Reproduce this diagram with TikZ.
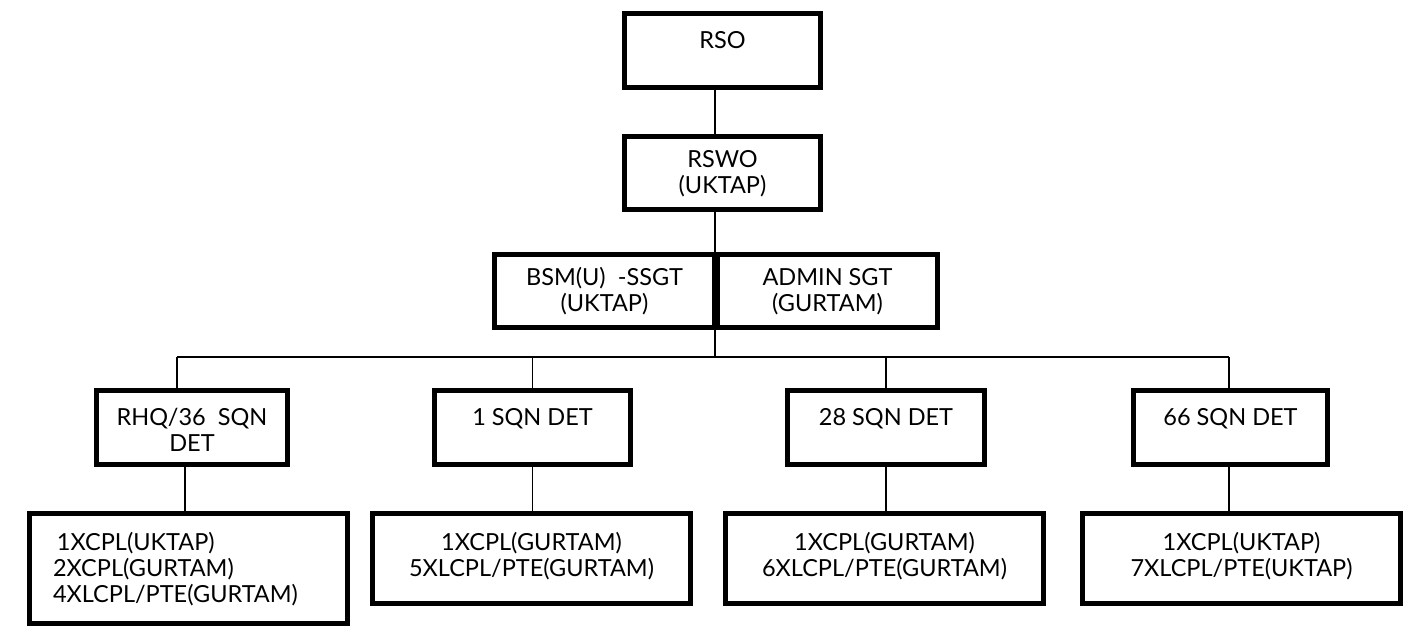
\documentclass[tikz,border=0pt]{standalone}
\usepackage{fontspec}
\setmainfont{Lato}
\newcommand{\unitlines}[4]{\parbox[c][#2][t]{#1}{\centering\rule{0pt}{#3}#4}}

\begin{document}
\begin{tikzpicture}[line join=miter,
  unit/.style={draw, line width=5bp, inner sep=0pt, font=\fontsize{23.5bp}{26bp}\selectfont},
  wire/.style={line width=1.6bp}]
\useasboundingbox (0bp,0bp) rectangle (1413bp,626bp);
%%
\node (node_rso) at (722.5bp,575.5bp) [unit] {\unitlines{196bp}{74bp}{35bp}{RSO}};
  \node (node_rswo) at (722.5bp,453bp) [unit] {\unitlines{196bp}{73bp}{31bp}{RSWO\\(UKTAP)}};
  \node (node_bsm) at (604.5bp,335bp) [unit] {\unitlines{220bp}{73bp}{31bp}{BSM(U)\ \ -SSGT\\(UKTAP)}};
  \node (node_admin) at (827.5bp,335bp) [unit] {\unitlines{220bp}{73bp}{31bp}{ADMIN SGT\\(GURTAM)}};
  \node (node_rhq) at (192bp,198.5bp) [unit] {\unitlines{191bp}{74bp}{35bp}{RHQ/36\ \ SQN\\DET}};
  \node (node_sqn1) at (532.5bp,198.5bp) [unit] {\unitlines{196bp}{74bp}{35bp}{1 SQN DET}};
  \node (node_sqn28) at (886bp,198.5bp) [unit] {\unitlines{197bp}{74bp}{35bp}{28 SQN DET}};
  \node (node_sqn66) at (1230.5bp,198.5bp) [unit] {\unitlines{194bp}{74bp}{35bp}{66 SQN DET}};
  \node (node_rhq_men) at (188.5bp,57.25bp) [unit] {\parbox[c][110.5bp][t]{318bp}{\raggedright\leftskip=23.5bp\rule{0pt}{37bp}\,1XCPL(UKTAP)\\2XCPL(GURTAM)\\4XLCPL/PTE(GURTAM)}};
  \node (node_sqn1_men) at (531.5bp,67.5bp) [unit] {\unitlines{318bp}{90bp}{37bp}{1XCPL(GURTAM)\\5XLCPL/PTE(GURTAM)}};
  \node (node_sqn28_men) at (884.5bp,67.5bp) [unit] {\unitlines{318bp}{90bp}{37bp}{1XCPL(GURTAM)\\6XLCPL/PTE(GURTAM)}};
  \node (node_sqn66_men) at (1241.5bp,67.5bp) [unit] {\unitlines{318bp}{90bp}{37bp}{1XCPL(UKTAP)\\7XLCPL/PTE(UKTAP)}};
  \coordinate (bus_l) at (177bp,269bp);
  \coordinate (bus_m) at (715bp,269bp);
  \coordinate (bus_r) at (1229bp,269bp);
  \draw [wire] ([xshift=-7.5bp]node_rso.south) -- ([xshift=-7.5bp]node_rswo.north);
  \draw [wire] ([xshift=-7.5bp]node_rswo.south) -- (bus_m);
  \draw [wire] (bus_l) -- (bus_r);
  \draw [wire] (bus_l) -- (bus_l |- node_rhq.north);
  \draw [wire] (node_sqn1.north |- bus_m) -- (node_sqn1.north);
  \draw [wire] (node_sqn28.north |- bus_m) -- (node_sqn28.north);
  \draw [wire] (bus_r) -- (bus_r |- node_sqn66.north);
  \draw [wire] ([xshift=-7bp]node_rhq.south) -- ([xshift=-7bp]node_rhq.south |- node_rhq_men.north);
  \draw [wire] (node_sqn1.south) -- (node_sqn1.south |- node_sqn1_men.north);
  \draw [wire] (node_sqn28.south) -- (node_sqn28.south |- node_sqn28_men.north);
  \draw [wire] ([xshift=-1.5bp]node_sqn66.south) -- ([xshift=-1.5bp]node_sqn66.south |- node_sqn66_men.north);
%
\end{tikzpicture}
\end{document}
